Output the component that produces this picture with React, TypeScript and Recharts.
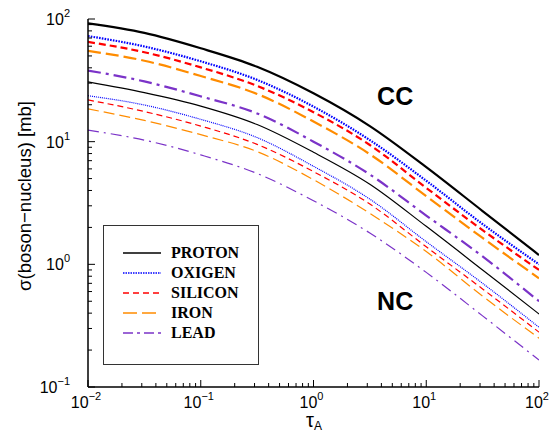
import { LineChart, Line, XAxis, YAxis, Legend, ReferenceDot } from 'recharts';

// tau_A sample points (half decades)
const TAU = [0.01, 0.0316, 0.1, 0.316, 1, 3.16, 10, 31.6, 100];

const NAMES = ['PROTON', 'OXIGEN', 'SILICON', 'IRON', 'LEAD'];

// charged current, mb
const PROTON_CC = [92, 77, 57.7, 40.8, 24.8, 13.4, 6.2, 2.72, 1.19];
const OXIGEN_CC = [72.6, 59.7, 45.2, 31.9, 19.3, 10.3, 4.8, 2.13, 1.0];
const SILICON_CC = [65, 53.6, 40.3, 28.5, 17.4, 9.4, 4.2, 1.9, 0.9];
const IRON_CC = [55, 45.7, 34.3, 24.5, 14.6, 7.9, 3.6, 1.64, 0.77];
const LEAD_CC = [38, 31, 23.4, 17, 10.0, 5.4, 2.5, 1.16, 0.5];

// neutral current, mb
const PROTON_NC = [30.7, 25.1, 19.5, 13.8, 8.2, 4.5, 2.04, 0.9, 0.394];
const OXIGEN_NC = [23.7, 19.9, 15.2, 10.8, 6.3, 3.4, 1.53, 0.7, 0.307];
const SILICON_NC = [21.9, 17.6, 13.4, 9.5, 5.7, 3.1, 1.39, 0.63, 0.28];
const IRON_NC = [18.5, 14.9, 11.4, 8.3, 4.9, 2.6, 1.27, 0.55, 0.25];
const LEAD_NC = [12.4, 10.3, 7.8, 5.5, 3.3, 1.8, 0.86, 0.38, 0.166];

const CC = [PROTON_CC, OXIGEN_CC, SILICON_CC, IRON_CC, LEAD_CC];
const NC = [PROTON_NC, OXIGEN_NC, SILICON_NC, IRON_NC, LEAD_NC];

const X_DECADES = [0.01, 0.1, 1, 10, 100];
const Y_DECADES = [0.1, 1, 10, 100];

const withMinors = (decades: number[]) => {
  const out: number[] = [];
  decades.forEach((d, i) => {
    out.push(d);
    if (i < decades.length - 1) for (let m = 2; m <= 9; m++) out.push(+(d * m).toPrecision(3));
  });
  return out;
};
const X_TICKS = withMinors(X_DECADES);
const Y_TICKS = withMinors(Y_DECADES);

const COLORS = ['#000000', '#0000ff', '#ff0000', '#ff8c00', '#7b33c8'];
const DASH_CC = ['', '1.6 1.2', '7 4', '13 5', '13 5 3 5'];
const DASH_NC = ['', '1 1', '6 4', '11 5', '11 5 2 5'];
const DASH_LEGEND = ['', '1.5 1', '6 4', '14 5', '10 4 3 4'];

const rows = TAU.map((tau, i) => {
  const r: Record<string, number> = { tau };
  NAMES.forEach((n, k) => {
    r[`${n}_CC`] = CC[k][i];
    r[`${n}_NC`] = NC[k][i];
  });
  return r;
});

const FONT = '"Liberation Sans", Arial, sans-serif';
const SERIF = '"Liberation Serif", "Times New Roman", serif';

function isMajor(v: number) {
  const l = Math.log10(v);
  return Math.abs(l - Math.round(l)) < 1e-6;
}
function expText(v: number) {
  const e = Math.round(Math.log10(v));
  return e < 0 ? `\u2212${-e}` : `${e}`;
}

function BottomTick({ x, y, payload }: any) {
  const major = isMajor(payload.value);
  return (
    <g>
      <line x1={x} y1={y} x2={x} y2={y - (major ? 7 : 4)} stroke="#000" />
      {major && (
        <text x={x - 2} y={y + 21} textAnchor="middle" fontFamily={FONT} fontSize={16} fill="#000">
          10<tspan fontSize={11} dy={-8}>{expText(payload.value)}</tspan>
        </text>
      )}
    </g>
  );
}

function TopTick({ x, y, payload }: any) {
  const major = isMajor(payload.value);
  return <line x1={x} y1={y} x2={x} y2={y + (major ? 7 : 4)} stroke="#000" />;
}

function LeftTick({ x, y, payload }: any) {
  const major = isMajor(payload.value);
  return (
    <g>
      <line x1={x} y1={y} x2={x + (major ? 7 : 4)} y2={y} stroke="#000" />
      {major && (
        <text x={x - 18} y={y + 6} textAnchor="end" fontFamily={FONT} fontSize={16} fill="#000">
          10<tspan fontSize={11} dy={-8}>{expText(payload.value)}</tspan>
        </text>
      )}
    </g>
  );
}

function RightTick({ x, y, payload }: any) {
  const major = isMajor(payload.value);
  return <line x1={x} y1={y} x2={x - (major ? 7 : 4)} y2={y} stroke="#000" />;
}

function LegendBox() {
  return (
    <div
      style={{
        width: 156,
        height: 140,
        boxSizing: 'border-box',
        border: '1px solid #333',
        background: '#fff',
        paddingTop: 17,
        paddingLeft: 19,
      }}
    >
      {NAMES.map((n, k) => (
        <div key={n} style={{ display: 'flex', alignItems: 'center', height: 20 }}>
          <svg width={38} height={10} style={{ display: 'block' }}>
            <line x1={0} y1={5} x2={38} y2={5} stroke={COLORS[k]} strokeWidth={1.6} strokeDasharray={DASH_LEGEND[k]} />
          </svg>
          <span
            style={{
              marginLeft: 10,
              fontFamily: SERIF,
              fontWeight: 'bold',
              fontSize: 16,
              color: '#000',
              lineHeight: '20px',
            }}
          >
            {n}
          </span>
        </div>
      ))}
    </div>
  );
}

const axisLine = { stroke: '#000', strokeWidth: 1.5 };

export default function App() {
  return (
    <div style={{ width: 554, height: 441, background: '#fff' }}>
      <style>{'body{margin:0}'}</style>
      <LineChart width={554} height={441} data={rows} margin={{ top: 19, right: 15, bottom: 24, left: 28 }}>
        <XAxis
          xAxisId="b"
          dataKey="tau"
          type="number"
          scale="log"
          domain={[0.01, 100]}
          allowDataOverflow
          ticks={X_TICKS}
          interval={0}
          tickSize={0}
          tickMargin={0}
          tickLine={false}
          tick={<BottomTick />}
          axisLine={axisLine}
          height={30}
          label={{
            content: () => (
              <text x={306} y={427} fontFamily={FONT} fontSize={20} fill="#000">
                τ<tspan fontSize={12} dy={3}>A</tspan>
              </text>
            ),
          }}
        />
        <XAxis
          xAxisId="t"
          orientation="top"
          dataKey="tau"
          type="number"
          scale="log"
          domain={[0.01, 100]}
          allowDataOverflow
          ticks={X_TICKS}
          interval={0}
          tickSize={0}
          tickMargin={0}
          tickLine={false}
          tick={<TopTick />}
          axisLine={axisLine}
          height={0}
        />
        <YAxis
          yAxisId="l"
          type="number"
          scale="log"
          domain={[0.1, 100]}
          allowDataOverflow
          ticks={Y_TICKS}
          interval={0}
          tickSize={0}
          tickMargin={0}
          tickLine={false}
          tick={<LeftTick />}
          axisLine={axisLine}
          width={60}
          label={{
            content: () => (
              <text
                x={24}
                y={196}
                transform="rotate(-90 24 196)"
                textAnchor="middle"
                dominantBaseline="central"
                fontFamily={FONT}
                fontSize={18.5}
                fill="#000"
              >
                σ(boson−nucleus) [mb]
              </text>
            ),
          }}
        />
        <YAxis
          yAxisId="r"
          orientation="right"
          type="number"
          scale="log"
          domain={[0.1, 100]}
          allowDataOverflow
          ticks={Y_TICKS}
          interval={0}
          tickSize={0}
          tickMargin={0}
          tickLine={false}
          tick={<RightTick />}
          axisLine={axisLine}
          width={0}
        />
        {NAMES.map((n, k) => (
          <Line
            key={`${n}_NC`}
            xAxisId="b"
            yAxisId="l"
            type="monotone"
            dataKey={`${n}_NC`}
            stroke={COLORS[k]}
            strokeWidth={1.2}
            strokeDasharray={DASH_NC[k]}
            dot={false}
            activeDot={false}
            isAnimationActive={false}
          />
        ))}
        {NAMES.map((n, k) => (
          <Line
            key={`${n}_CC`}
            xAxisId="b"
            yAxisId="l"
            type="monotone"
            dataKey={`${n}_CC`}
            stroke={COLORS[k]}
            strokeWidth={2.2}
            strokeDasharray={DASH_CC[k]}
            dot={false}
            activeDot={false}
            isAnimationActive={false}
          />
        ))}
        <ReferenceDot
          xAxisId="b"
          yAxisId="l"
          x={5.3}
          y={23.5}
          r={0}
          fill="none"
          stroke="none"
          label={{ value: 'CC', position: 'center', fontSize: 25, fontWeight: 'bold', fill: '#000', fontFamily: FONT }}
        />
        <ReferenceDot
          xAxisId="b"
          yAxisId="l"
          x={5.3}
          y={0.5}
          r={0}
          fill="none"
          stroke="none"
          label={{ value: 'NC', position: 'center', fontSize: 25, fontWeight: 'bold', fill: '#000', fontFamily: FONT }}
        />
        <Legend
          layout="vertical"
          align="center"
          verticalAlign="middle"
          wrapperStyle={{ left: 103, top: 225, width: 156, height: 140 }}
          content={() => <LegendBox />}
        />
      </LineChart>
    </div>
  );
}
